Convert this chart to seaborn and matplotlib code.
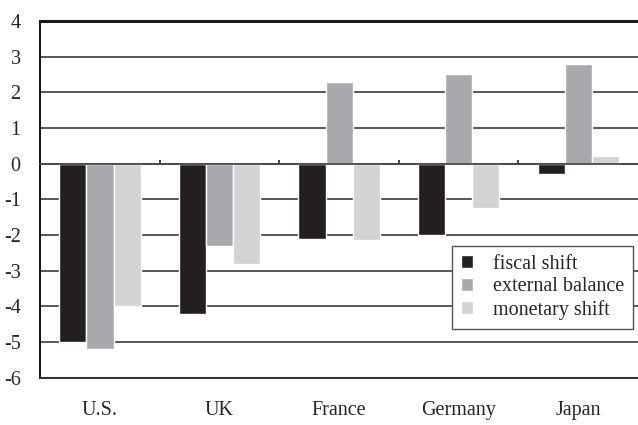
"""
Fiscal shift, external balance and monetary shift by country.
Grouped bar chart recreated with seaborn, saved as out.png.
"""

import pandas as pd
import matplotlib.pyplot as plt
import seaborn as sns

# ----------------------------------------------------------------------
# Data
# ----------------------------------------------------------------------
countries = ["U.S.", "UK", "France", "Germany", "Japan"]
series_names = ["fiscal shift", "external balance", "monetary shift"]

fiscal_shift = [-5.0, -4.2, -2.1, -2.0, -0.3]
external_balance = [-5.2, -2.3, 2.3, 2.5, 2.8]
monetary_shift = [-4.0, -2.8, -2.15, -1.25, 0.2]

y_ticks = [4, 3, 2, 1, 0, -1, -2, -3, -4, -5, -6]

COLORS = ["#231f20", "#a7a9ac", "#d1d3d4"]


def build_table():
    """Long-format table that seaborn can group by country and series."""
    rows = []
    for name, values in zip(series_names,
                            [fiscal_shift, external_balance, monetary_shift]):
        for country, v in zip(countries, values):
            rows.append({"country": country, "series": name, "value": v})
    return pd.DataFrame(rows)


def main():
    sns.set_style("white")
    plt.rcParams["font.family"] = ["Liberation Serif", "DejaVu Serif"]
    plt.rcParams["axes.unicode_minus"] = False

    df = build_table()

    fig = plt.figure(figsize=(6.38, 4.25), dpi=100)
    ax = fig.add_axes([0.063, 0.111, 0.937, 0.840])

    # grid lines behind the bars
    for t in y_ticks:
        ax.axhline(t, color="#4a4a4a", lw=1.3, zorder=0)

    sns.barplot(data=df, x="country", y="value", hue="series",
                order=countries, hue_order=series_names,
                palette=COLORS, saturation=1, width=0.68,
                ax=ax, zorder=2)

    ax.set_xlim(-0.5, len(countries) - 0.5)
    ax.set_ylim(-6, 4)
    ax.set_yticks(y_ticks)
    ax.set_xlabel("")
    ax.set_ylabel("")

    # spines: black left, thick top, no right
    ax.spines["right"].set_visible(False)
    ax.spines["left"].set_color("black")
    ax.spines["left"].set_linewidth(1.3)
    ax.spines["top"].set_color("#1a1a1a")
    ax.spines["top"].set_linewidth(2.2)
    ax.spines["bottom"].set_color("#333333")
    ax.spines["bottom"].set_linewidth(1.5)

    ax.tick_params(axis="y", length=0, pad=14, labelsize=14.5)
    ax.tick_params(axis="x", length=0, pad=17, labelsize=14.5)

    # small category separators sitting on the zero line
    ax2 = ax.twiny()
    ax2.set_xlim(ax.get_xlim())
    for side in ["top", "right", "left"]:
        ax2.spines[side].set_visible(False)
    ax2.spines["bottom"].set_position(("data", 0))
    ax2.spines["bottom"].set_color("#4a4a4a")
    ax2.spines["bottom"].set_linewidth(1.3)
    ax2.xaxis.set_ticks_position("bottom")
    ax2.set_xticks([i + 0.5 for i in range(len(countries) - 1)])
    ax2.tick_params(axis="x", direction="in", length=3, width=1.2,
                    color="#222222", labelbottom=False, labeltop=False)

    leg = ax.legend(loc="lower right", bbox_to_anchor=(0.992, 0.137),
                    borderaxespad=0, fontsize=14.5, frameon=True,
                    fancybox=False, edgecolor="#555555", framealpha=1,
                    handlelength=0.6, handleheight=0.6, handletextpad=1.0,
                    labelspacing=0.18, borderpad=0.45)
    leg.get_frame().set_linewidth(1.0)
    leg.set_zorder(5)

    fig.savefig("out.png", dpi=100)
    plt.close(fig)


if __name__ == "__main__":
    main()
